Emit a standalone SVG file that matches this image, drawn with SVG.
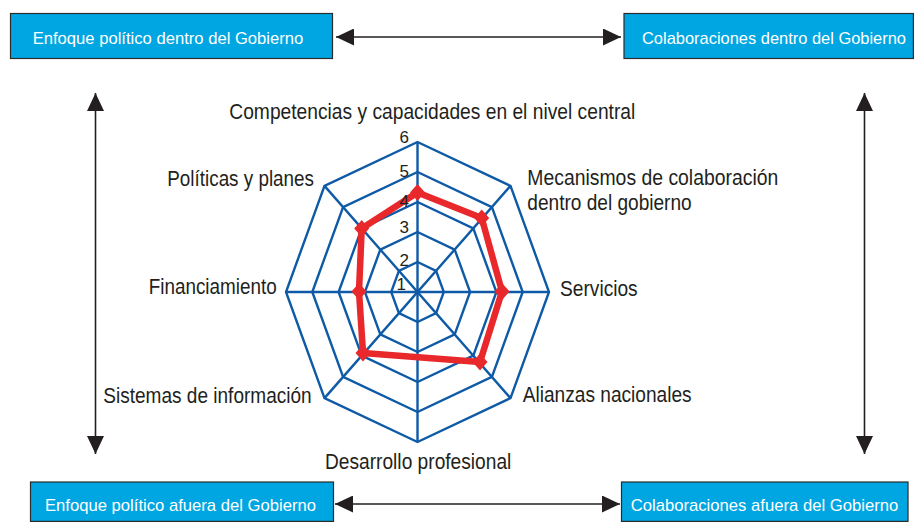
<svg xmlns="http://www.w3.org/2000/svg" width="914" height="522" viewBox="0 0 914 522">
<defs>
<style>
.box{fill:#00a6e1;stroke:#2b2b2b;stroke-width:1.2}
.bt{font-family:"Liberation Sans",Arial,sans-serif;font-size:17px;fill:#ffffff}
.lbl{font-family:"Liberation Sans",Arial,sans-serif;font-size:21.5px;fill:#231f20}
.num{font-family:"Liberation Sans",Arial,sans-serif;font-size:17px;fill:#231f20;text-anchor:end}
.arr{stroke:#231f20;stroke-width:1.6;fill:none;marker-start:url(#ah);marker-end:url(#ah)}
.grid{fill:none;stroke:#0e5aa6;stroke-width:2.4;stroke-linejoin:miter}
.data{fill:none;stroke:#e8282b;stroke-width:6.5;stroke-linejoin:round}
.mk{fill:#e8282b}
</style>
<marker id="ah" viewBox="0 0 18 17" refX="18" refY="8.5" markerWidth="18" markerHeight="17" markerUnits="userSpaceOnUse" orient="auto-start-reverse">
<path d="M0,0 L18,8.5 L0,17 z" fill="#231f20"/>
</marker>
</defs>

<g id="connectors">
<line class="arr" x1="336" y1="37" x2="621" y2="37"/>
<line class="arr" x1="335" y1="504" x2="620" y2="504"/>
<line class="arr" x1="95.5" y1="93" x2="95.5" y2="454"/>
<line class="arr" x1="864.5" y1="93" x2="864.5" y2="454"/>
</g>

<g id="node-enfoque-dentro">
<rect class="box" x="10.5" y="13.5" width="322" height="45"/>
<text class="bt" x="32.7" y="43.5" textLength="270.6" lengthAdjust="spacingAndGlyphs">Enfoque político dentro del Gobierno</text>
</g>
<g id="node-colab-dentro">
<rect class="box" x="624" y="13.5" width="289.4" height="45"/>
<text class="bt" x="642" y="43.5" style="font-size:16.5px" textLength="264" lengthAdjust="spacingAndGlyphs">Colaboraciones dentro del Gobierno</text>
</g>
<g id="node-enfoque-afuera">
<rect class="box" x="30.5" y="482" width="303" height="39.4"/>
<text class="bt" x="45" y="511" textLength="271" lengthAdjust="spacingAndGlyphs">Enfoque político afuera del Gobierno</text>
</g>
<g id="node-colab-afuera">
<rect class="box" x="621.5" y="482" width="286.5" height="39.4"/>
<text class="bt" x="630.7" y="511" textLength="267.6" lengthAdjust="spacingAndGlyphs">Colaboraciones afuera del Gobierno</text>
</g>

<g id="radar">
<g class="grid">
<polygon points="417.5,142 510.5,185.9 549,292 510.5,398.1 417.5,442 324.5,398.1 286,292 324.5,185.9"/>
<polygon points="417.5,172 491.9,207.1 522.7,292 491.9,376.9 417.5,412 343.1,376.9 312.3,292 343.1,207.1"/>
<polygon points="417.5,202 473.3,228.4 496.4,292 473.3,355.6 417.5,382 361.7,355.6 338.6,292 361.7,228.4"/>
<polygon points="417.5,232 454.7,249.6 470.1,292 454.7,334.4 417.5,352 380.3,334.4 364.9,292 380.3,249.6"/>
<polygon points="417.5,262 436.1,270.8 443.8,292 436.1,313.2 417.5,322 398.9,313.2 391.2,292 398.9,270.8"/>
<line x1="417.5" y1="142" x2="417.5" y2="442"/>
<line x1="286" y1="292" x2="549" y2="292"/>
<line x1="324.5" y1="185.9" x2="510.5" y2="398.1"/>
<line x1="510.5" y1="185.9" x2="324.5" y2="398.1"/>
</g>
<polygon class="data" points="417.5,192.5 481.7,218 502,291.5 480,362 363,353 359,291.5 361.7,228.5"/>
<g class="mk">
<path d="M417.5,184 l7.5,8.5 l-7.5,8.5 l-7.5,-8.5 z"/>
<path d="M481.7,209.5 l7.5,8.5 l-7.5,8.5 l-7.5,-8.5 z"/>
<path d="M502,283 l7.5,8.5 l-7.5,8.5 l-7.5,-8.5 z"/>
<path d="M480,353.5 l7.5,8.5 l-7.5,8.5 l-7.5,-8.5 z"/>
<path d="M363,344.5 l7.5,8.5 l-7.5,8.5 l-7.5,-8.5 z"/>
<path d="M359,283 l7.5,8.5 l-7.5,8.5 l-7.5,-8.5 z"/>
<path d="M361.7,220 l7.5,8.5 l-7.5,8.5 l-7.5,-8.5 z"/>
</g>
<text class="num" x="409" y="143">6</text>
<text class="num" x="409" y="177">5</text>
<text class="num" x="409" y="207">4</text>
<text class="num" x="409" y="233">3</text>
<text class="num" x="409" y="266">2</text>
<text class="num" x="406" y="290">1</text>
</g>

<g id="axis-labels">
<text class="lbl" x="229.3" y="119" textLength="406" lengthAdjust="spacingAndGlyphs">Competencias y capacidades en el nivel central</text>
<text class="lbl" x="527.3" y="185" textLength="251" lengthAdjust="spacingAndGlyphs">Mecanismos de colaboración</text>
<text class="lbl" x="527.3" y="209.5" textLength="164.4" lengthAdjust="spacingAndGlyphs">dentro del gobierno</text>
<text class="lbl" x="560" y="296" textLength="77.7" lengthAdjust="spacingAndGlyphs">Servicios</text>
<text class="lbl" x="522.7" y="401.7" textLength="169" lengthAdjust="spacingAndGlyphs">Alianzas nacionales</text>
<text class="lbl" x="325" y="469" textLength="186.3" lengthAdjust="spacingAndGlyphs">Desarrollo profesional</text>
<text class="lbl" x="103.3" y="402.7" textLength="208.4" lengthAdjust="spacingAndGlyphs">Sistemas de información</text>
<text class="lbl" x="148.7" y="294" textLength="128" lengthAdjust="spacingAndGlyphs">Financiamiento</text>
<text class="lbl" x="167.3" y="186" textLength="146.7" lengthAdjust="spacingAndGlyphs">Políticas y planes</text>
</g>
</svg>
